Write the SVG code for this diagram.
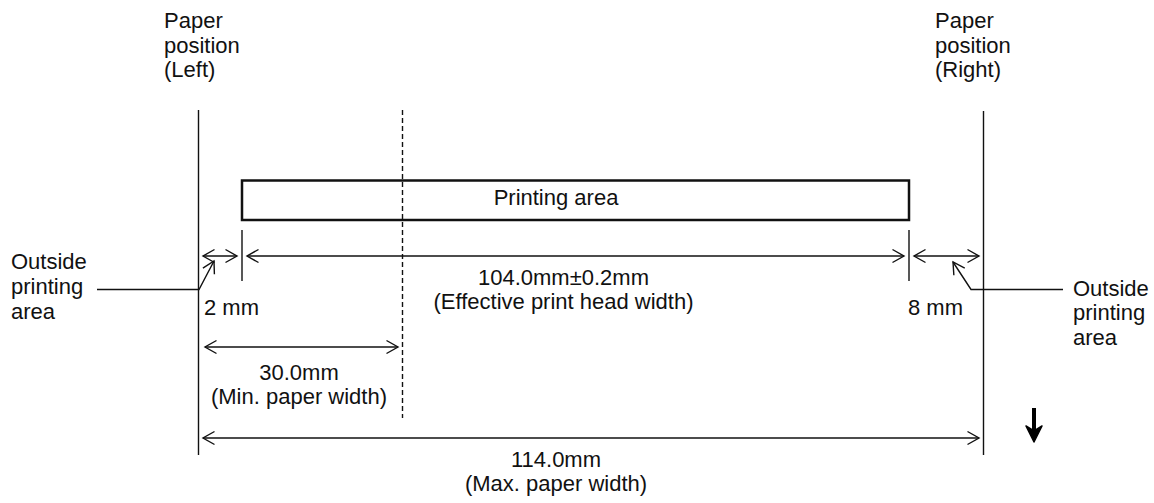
<svg xmlns="http://www.w3.org/2000/svg" width="1154" height="503" viewBox="0 0 1154 503">
<style>
text{font-family:"Liberation Sans",Arial,sans-serif;font-size:22px;fill:#111}
.c{text-anchor:middle}
.ln{stroke:#111;stroke-width:1.4;fill:none}
.ah{stroke:#111;stroke-width:1.4;fill:none;stroke-linejoin:miter}
</style>
<defs>
<marker id="a" viewBox="-13 -8 15 16" markerWidth="15" markerHeight="16" refX="0" refY="0" markerUnits="userSpaceOnUse" orient="auto-start-reverse">
<path d="M-11.5,-6.5 L0,0 L-11.5,6.5" class="ah"/>
</marker>
</defs>
<rect width="1154" height="503" fill="#fff"/>
<g id="paper-left">
<line x1="198.5" y1="110" x2="198.5" y2="455" class="ln"/>
<text x="164" y="28">Paper</text>
<text x="164" y="53">position</text>
<text x="164" y="77">(Left)</text>
</g>
<g id="paper-right">
<line x1="983.5" y1="111" x2="983.5" y2="455" class="ln"/>
<text x="935" y="28">Paper</text>
<text x="935" y="53">position</text>
<text x="935" y="77">(Right)</text>
</g>
<g id="min-width-line">
<line x1="402.5" y1="110" x2="402.5" y2="418" class="ln" stroke-dasharray="5,3"/>
</g>
<g id="printing-area">
<rect x="242" y="180.5" width="667" height="39.5" fill="none" stroke="#111" stroke-width="2.5"/>
<text x="556" y="205" class="c">Printing area</text>
</g>
<g id="ticks">
<line x1="242" y1="230" x2="242" y2="281" class="ln"/>
<line x1="909" y1="230" x2="909" y2="281" class="ln"/>
</g>
<g id="connectors">
<line x1="203" y1="256" x2="237" y2="256" class="ln" marker-start="url(#a)" marker-end="url(#a)"/>
<line x1="247" y1="256" x2="904" y2="256" class="ln" marker-start="url(#a)" marker-end="url(#a)"/>
<line x1="914" y1="256" x2="979" y2="256" class="ln" marker-start="url(#a)" marker-end="url(#a)"/>
<line x1="205" y1="347" x2="398" y2="347" class="ln" marker-start="url(#a)" marker-end="url(#a)"/>
<line x1="203" y1="438" x2="979" y2="438" class="ln" marker-start="url(#a)" marker-end="url(#a)"/>
<polyline points="97,289.5 199,289.5 214,261" class="ln" marker-end="url(#a)"/>
<polyline points="1063,289.5 971,289.5 953,262" class="ln" marker-end="url(#a)"/>
</g>
<g id="label-outside-left">
<text x="11" y="269">Outside</text>
<text x="11" y="294">printing</text>
<text x="11" y="319">area</text>
</g>
<g id="label-outside-right">
<text x="1073" y="296">Outside</text>
<text x="1073" y="320">printing</text>
<text x="1073" y="345">area</text>
</g>
<g id="label-2mm"><text x="204" y="315">2 mm</text></g>
<g id="label-8mm"><text x="908" y="315">8 mm</text></g>
<g id="label-104">
<text x="563.5" y="285" class="c">104.0mm±0.2mm</text>
<text x="563.5" y="309" class="c">(Effective print head width)</text>
</g>
<g id="label-30">
<text x="299" y="380" class="c">30.0mm</text>
<text x="299" y="404" class="c">(Min. paper width)</text>
</g>
<g id="label-114">
<text x="556" y="467" class="c">114.0mm</text>
<text x="556" y="491" class="c">(Max. paper width)</text>
</g>
<g id="feed-arrow">
<line x1="1034" y1="408" x2="1034" y2="432" stroke="#000" stroke-width="4"/>
<path d="M1026,426 L1034,442 L1042,426 L1034,431 Z" fill="#000" stroke="#000" stroke-width="1.5" stroke-linejoin="round"/>
</g>
</svg>
